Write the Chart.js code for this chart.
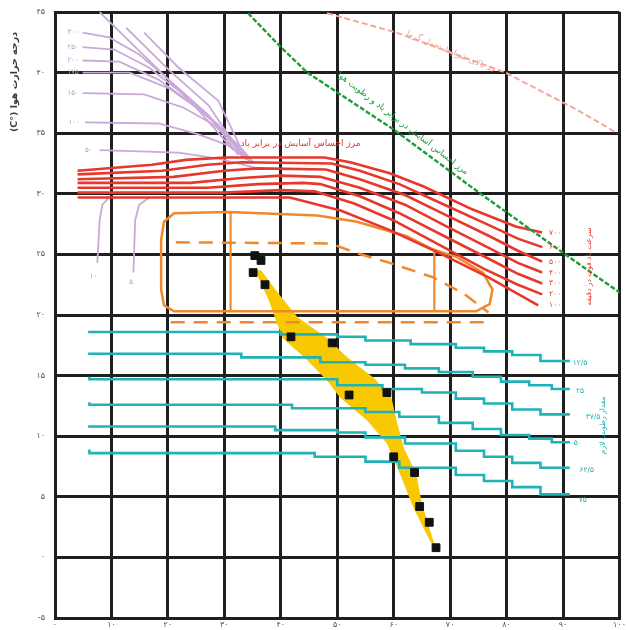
<!DOCTYPE html>
<html lang="fa">
<head>
<meta charset="utf-8">
<script src="https://cdn.jsdelivr.net/npm/chart.js@4.4.1/dist/chart.umd.min.js"></script>
<style>
  html, body { margin: 0; padding: 0; background: #fff; }
  #wrap { width: 626px; height: 630px; }
</style>
</head>
<body>
<div id="wrap"><canvas id="bio" width="626" height="630"></canvas></div>
<script>
// Bioclimatic chart: relative humidity (%) on x, air temperature (°C) on y.

const humidityTicks = [0, 10, 20, 30, 40, 50, 60, 70, 80, 90, 100];
const temperatureTicks = [-5, 0, 5, 10, 15, 20, 25, 30, 35, 40, 45];

// monthly climate observations (humidity %, temperature °C)
const climatePoints = [
  [35.4, 24.9], [36.5, 24.5], [35.1, 23.5], [37.2, 22.5],
  [41.8, 18.2], [49.1, 17.7], [52.1, 13.4], [58.8, 13.6],
  [60.0, 8.3], [63.7, 7.0], [64.6, 4.2], [66.3, 2.9], [67.5, 0.8]
];

// climate band enclosing the observations (down the left edge, back up the right)
const climateBand = [
  [35.4, 23.7], [37.7, 21.4], [40.3, 18.1], [44.2, 16.5], [48.2, 14.6],
  [50.5, 13.2], [55.3, 11.3], [58.8, 9.4], [61.1, 6.9], [63.5, 4.1], [66.7, 1.1],
  [67.2, 1.1], [65.0, 4.4], [64.0, 6.9], [61.8, 9.0], [60.5, 11.3],
  [59.6, 13.2], [56.5, 14.8], [51.8, 16.5], [48.2, 18.1], [43.0, 19.8],
  [39.2, 22.0], [36.5, 23.7], [35.4, 23.7]
];

// comfort zone outline
const comfortOuter = [
  [18.8, 26.2], [19.3, 27.7], [21.1, 28.4], [30.7, 28.5], [46.5, 28.2],
  [53.5, 27.7], [62.3, 26.5], [67.0, 25.4], [71.1, 24.8], [75.8, 23.5],
  [77.5, 22.1], [77.0, 20.9], [74.6, 20.3], [21.1, 20.3], [19.3, 20.8],
  [18.8, 22.1], [18.8, 26.2]
];
const comfortDividerA = [[31.1, 28.5], [31.1, 20.3]];
const comfortDividerB = [[67.2, 25.4], [67.2, 20.3]];
const comfortInnerDashed = [
  [21.4, 26.0], [48.8, 25.9], [53.5, 25.1], [59.3, 24.3],
  [67.0, 23.1], [72.3, 21.8], [76.8, 20.2]
];
const comfortLowerDashed = [[20.5, 19.4], [77.0, 19.4]];

// wind speed lines (ft/min)
const windLabels = ['۷۰۰', '۶۰۰', '۵۰۰', '۴۰۰', '۳۰۰', '۲۰۰', '۱۰۰'];
const wind700 = [[4, 31.9], [17.2, 32.4], [23.2, 32.8], [30.2, 33.0], [47.7, 33.0], [52.3, 32.6], [59.3, 31.7], [65.3, 30.6], [74, 28.7], [81.6, 27.3], [86.3, 26.8]];
const wind600 = [[4, 31.6], [19, 31.9], [27, 32.4], [33, 32.6], [49, 32.5], [54, 31.9], [61, 30.8], [68, 29.3], [76, 27.6], [82, 26.3], [86.3, 25.6]];
const wind500 = [[4, 31.2], [21, 31.4], [30, 31.9], [36, 32.1], [48, 32.0], [54, 31.2], [62, 29.9], [69, 28.3], [77, 26.5], [82, 25.3], [86.3, 24.4]];
const wind400 = [[4, 30.9], [24, 30.9], [33, 31.3], [40, 31.5], [47, 31.4], [54, 30.5], [62, 29.1], [69, 27.4], [77, 25.5], [82, 24.3], [86.3, 23.5]];
const wind300 = [[4, 30.5], [27, 30.5], [36, 30.8], [44, 30.9], [47, 30.8], [54, 29.8], [61, 28.4], [69, 26.5], [77, 24.6], [82, 23.4], [86.3, 22.6]];
const wind200 = [[4, 30.1], [30, 30.1], [40, 30.3], [46, 30.2], [53, 29.2], [60, 27.8], [68, 25.8], [76, 23.8], [82, 22.5], [86.3, 21.7]];
const wind100 = [[4, 29.7], [41.6, 29.7], [50.7, 28.6], [59.3, 27.0], [68.1, 25.1], [76.8, 23.1], [85.6, 20.8]];
const windLines = [wind700, wind600, wind500, wind400, wind300, wind200, wind100];

// moisture lines (grains needed)
const moistureLabels = ['۱۲/۵', '۲۵', '۳۷/۵', '۵۰', '۶۲/۵', '۷۵'];
const moisture125 = [[6.1, 18.7], [40, 18.6], [50, 18.4], [55, 18.2], [63, 17.9], [71, 17.6], [76, 17.3], [81, 17.0], [86, 16.7], [91.2, 16.2]];
const moisture25 = [[6.1, 16.9], [33, 16.8], [47, 16.5], [55, 16.1], [62, 15.9], [68, 15.6], [74, 15.3], [79, 14.9], [84, 14.5], [88, 14.2], [91.2, 13.9]];
const moisture375 = [[6.1, 14.9], [50, 14.7], [58, 14.2], [65, 13.9], [71, 13.6], [76, 13.1], [81, 12.7], [86, 12.2], [91.2, 11.8]];
const moisture50 = [[6.1, 12.8], [42, 12.6], [55, 12.3], [61, 12.0], [68, 11.6], [74, 11.1], [79, 10.6], [84, 10.1], [88, 9.8], [91.2, 9.5]];
const moisture625 = [[6.1, 10.9], [39, 10.8], [50, 10.5], [55, 10.3], [62, 9.9], [71, 9.4], [76, 8.8], [81, 8.3], [86, 7.8], [91.2, 7.4]];
const moisture75 = [[6.1, 8.9], [46, 8.6], [55, 8.3], [61, 7.9], [71, 7.4], [76, 6.8], [81, 6.3], [86, 5.8], [91.2, 5.2]];
const moistureLines = [moisture125, moisture25, moisture375, moisture50, moisture625, moisture75];
const moistureLabelPos = [[93.0, 16.0], [93.0, 13.7], [95.3, 11.6], [92.6, 9.4], [94.2, 7.2], [93.5, 4.7]];

// solar radiation lines
const radiationLabels = ['۳۰۰', '۲۵۰', '۲۰۰', '۱۷۵', '۱۵۰', '۱۰۰', '۵۰'];
const radiationDiag1 = [[7.9, 45], [18.4, 40.2], [25.4, 36.9], [31.6, 33.6]];
const radiationDiag2 = [[12.6, 43.7], [20.2, 40.2], [27.2, 37.3], [32.5, 33.6]];
const radiationDiag3 = [[15.8, 43.3], [21.9, 40.4], [28.9, 37.7], [33.3, 33.4]];
const radiation300 = [[4.9, 43.3], [9.6, 42.9], [14.9, 41.5], [20.2, 39.4], [27.2, 36.5], [32.5, 33.2]];
const radiation250 = [[4.9, 42.1], [10.5, 41.9], [16.7, 40.4], [22.8, 38.2], [28.9, 35.7], [33.3, 33.0]];
const radiation200 = [[4.9, 41.0], [11.4, 40.9], [18.4, 39.4], [24.6, 37.3], [30.7, 34.9], [33.9, 32.8]];
const radiation175 = [[4.9, 40.0], [13.2, 40.0], [20.2, 38.7], [26.3, 36.7], [32.5, 34.0], [34.2, 32.8]];
const radiation150 = [[4.9, 38.3], [15.8, 38.2], [22.8, 37.1], [28.1, 35.7], [33.3, 33.6], [35.1, 32.6]];
const radiation100 = [[5.3, 35.9], [18.4, 35.8], [25.4, 34.9], [30.7, 34.0], [35.1, 32.5]];
const radiation50 = [[7.9, 33.6], [21.9, 33.4], [28.9, 32.9], [36.0, 32.1]];
const radiationLines = [radiation300, radiation250, radiation200, radiation175, radiation150, radiation100, radiation50];
const radiationLabelPos = [[3.2, 43.3], [3.2, 42.1], [3.2, 41.0], [3.2, 40.0], [3.2, 38.3], [3.4, 35.9], [6.0, 33.6]];

// evaporative cooling lines below the comfort zone
const evaporation10 = [[9.6, 29.7], [8.4, 29.1], [7.9, 27.8], [7.5, 24.3]];
const evaporation5 = [[16.7, 29.7], [14.9, 29.1], [14.2, 27.8], [13.9, 23.5]];

// limit curves
const windHumidityLimit = [[34.2, 44.9], [40, 42.1], [44.7, 40.0], [60, 35.3], [75.1, 30.1], [90.4, 25.0], [100.2, 21.8]];
const heatLimit = [[48.2, 44.9], [60.5, 43.3], [79.8, 40.0], [92.6, 36.9], [99.6, 35.0]];

const faDigits = '۰۱۲۳۴۵۶۷۸۹';
function toFa(n) {
  return String(n).replace(/\d/g, d => faDigits[+d]);
}
function pts(arr) { return arr.map(p => ({ x: p[0], y: p[1] })); }

const RED = '#e8372c', TEAL = '#20b3b6', LAV = '#c9a9d8', ORANGE = '#f0892b',
      GREEN = '#1c9e3c', PINK = '#f3a79c', YELLOW = '#f8c800';

const datasets = [];
datasets.push({ data: pts(climatePoints), showLine: false, pointStyle: 'rect', pointRadius: 5.5,
  pointBackgroundColor: '#111', pointBorderColor: '#111', order: 0 });
datasets.push({ data: pts(climateBand), showLine: true, borderWidth: 0, borderColor: YELLOW,
  backgroundColor: YELLOW, fill: 'shape', order: 20 });
datasets.push({ data: pts(comfortOuter), showLine: true, borderColor: ORANGE, borderWidth: 2.5, order: 10 });
datasets.push({ data: pts(comfortDividerA), showLine: true, borderColor: ORANGE, borderWidth: 2.2, order: 10 });
datasets.push({ data: pts(comfortDividerB), showLine: true, borderColor: ORANGE, borderWidth: 2.2, order: 10 });
datasets.push({ data: pts(comfortInnerDashed), showLine: true, borderColor: ORANGE, borderWidth: 2.5, borderDash: [14, 9], order: 10 });
datasets.push({ data: pts(comfortLowerDashed), showLine: true, borderColor: ORANGE, borderWidth: 2.5, borderDash: [14, 9], order: 10 });
windLines.forEach(l => datasets.push({ data: pts(l), showLine: true, borderColor: RED, borderWidth: 2.6, order: 6 }));
moistureLines.forEach(l => datasets.push({ data: pts(l), showLine: true, stepped: 'after', borderColor: TEAL, borderWidth: 2.6, order: 8 }));
[radiationDiag1, radiationDiag2, radiationDiag3].concat(radiationLines).forEach(l =>
  datasets.push({ data: pts(l), showLine: true, borderColor: LAV, borderWidth: 1.8, order: 7 }));
[evaporation10, evaporation5].forEach(l =>
  datasets.push({ data: pts(l), showLine: true, borderColor: LAV, borderWidth: 1.8, order: 7 }));
datasets.push({ data: pts(windHumidityLimit), showLine: true, borderColor: GREEN, borderWidth: 2.4, borderDash: [5, 2], order: 5 });
datasets.push({ data: pts(heatLimit), showLine: true, borderColor: PINK, borderWidth: 2, borderDash: [6, 3], order: 5 });

// captions and line labels, placed at data coordinates
const captions = [];
windLabels.forEach((t, i) => {
  const l = windLines[i];
  const end = l[l.length - 1];
  captions.push({ t, x: 88.6, y: end[1], c: RED, s: 7.5 });
});
moistureLabels.forEach((t, i) => captions.push({ t, x: moistureLabelPos[i][0], y: moistureLabelPos[i][1], c: TEAL, s: 7.5 }));
radiationLabels.forEach((t, i) => captions.push({ t, x: radiationLabelPos[i][0], y: radiationLabelPos[i][1], c: '#b79ac8', s: 7 }));
captions.push({ t: '۱۰', x: 6.8, y: 23.2, c: '#b79ac8', s: 7 });
captions.push({ t: '۵', x: 13.5, y: 22.7, c: '#b79ac8', s: 7 });
captions.push({ t: 'مرز احساس آسایش در برابر باد', x: 43.5, y: 34.1, c: RED, s: 9 });
captions.push({ t: 'مرز احساس آسایش در برابر باد و رطوبت هوا', x: 61.6, y: 35.8, c: GREEN, s: 8.5, a: 37.5 });
captions.push({ t: 'حد بالای شرایط تحمل گرما', x: 70.2, y: 41.7, c: PINK, s: 8.5, a: 23 });
captions.push({ t: 'سرعت باد فوت در دقیقه', x: 94.6, y: 24.0, c: RED, s: 7.5, a: -90 });
captions.push({ t: 'مقدار رطوبت لازم', x: 97.0, y: 10.9, c: TEAL, s: 7.5, a: -90 });

const captionPlugin = {
  id: 'captions',
  afterDatasetsDraw(chart) {
    const { ctx, scales: { x, y } } = chart;
    captions.forEach(c => {
      ctx.save();
      ctx.translate(x.getPixelForValue(c.x), y.getPixelForValue(c.y));
      if (c.a) ctx.rotate(c.a * Math.PI / 180);
      ctx.direction = 'rtl';
      ctx.textAlign = 'center';
      ctx.textBaseline = 'middle';
      ctx.fillStyle = c.c;
      ctx.font = c.s + 'px "DejaVu Sans"';
      ctx.fillText(c.t, 0, 0);
      ctx.restore();
    });
    // vertical axis title
    ctx.save();
    ctx.translate(15, 82);
    ctx.rotate(-Math.PI / 2);
    ctx.direction = 'rtl';
    ctx.textAlign = 'center';
    ctx.textBaseline = 'middle';
    ctx.fillStyle = '#3a3a3a';
    ctx.font = 'bold 9.5px "DejaVu Sans"';
    ctx.fillText('درجه حرارت هوا (°C)', 0, 0);
    ctx.restore();
  }
};

new Chart(document.getElementById('bio'), {
  type: 'scatter',
  data: { datasets },
  options: {
    responsive: false,
    animation: false,
    events: [],
    layout: { padding: { top: 12, right: 1, left: 0, bottom: 0 } },
    elements: { point: { radius: 0 }, line: { tension: 0 } },
    plugins: { legend: { display: false }, tooltip: { enabled: false } },
    scales: {
      x: {
        type: 'linear', min: 0, max: 100,
        afterBuildTicks: s => { s.ticks = humidityTicks.map(v => ({ value: v })); },
        grid: { color: '#1f1f1f', lineWidth: 3, drawTicks: false },
        border: { color: '#1f1f1f', width: 3 },
        ticks: { padding: 2, color: '#555', font: { family: 'DejaVu Sans', size: 8 }, callback: v => toFa(v), maxRotation: 0 },
        afterFit: s => { s.height = 12; s.paddingLeft = 0; s.paddingRight = 0; }
      },
      y: {
        type: 'linear', min: -5, max: 45,
        afterBuildTicks: s => { s.ticks = temperatureTicks.map(v => ({ value: v })); },
        grid: { color: '#1f1f1f', lineWidth: 3, drawTicks: false },
        border: { color: '#1f1f1f', width: 3 },
        ticks: { padding: 10, color: '#555', font: { family: 'DejaVu Sans', size: 8 }, callback: v => toFa(v) },
        afterFit: s => { s.width = 55; s.paddingTop = 0; s.paddingBottom = 0; }
      }
    }
  },
  plugins: [captionPlugin]
});
</script>
</body>
</html>
